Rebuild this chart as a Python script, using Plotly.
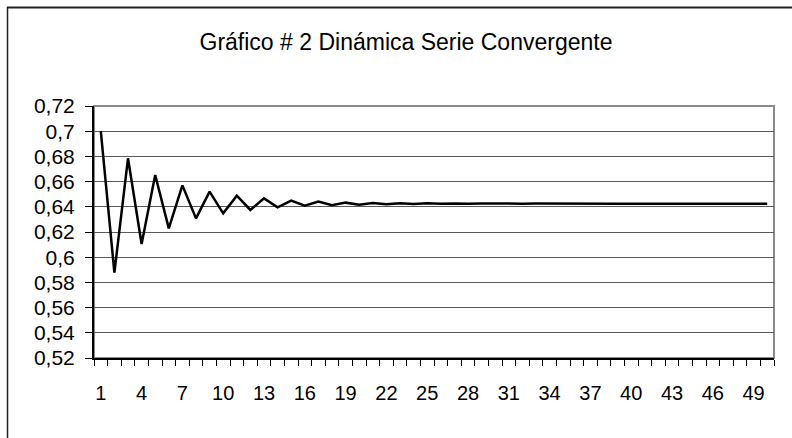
import plotly.graph_objects as go

# Chart geometry (Excel-like chart, plot area in pixels)
W, H = 792, 438
ML, MR, MT, MB = 94, 18, 106, 80

# Data
steps = list(range(1, 51))
values = [
    0.7000, 0.5877, 0.6785, 0.6105, 0.6652, 0.6229, 0.6570, 0.6308, 0.6520, 0.6348,
    0.6488, 0.6375, 0.6467, 0.6396, 0.6449, 0.6409, 0.6441, 0.6412, 0.6433, 0.6417,
    0.6430, 0.6421, 0.6429, 0.6423, 0.6428, 0.6424, 0.6427, 0.6424, 0.6427, 0.6425,
    0.6426, 0.6425, 0.6426, 0.6425, 0.6426, 0.6425, 0.6426, 0.6425, 0.6425, 0.6425,
    0.6425, 0.6425, 0.6425, 0.6425, 0.6425, 0.6425, 0.6425, 0.6425, 0.6425, 0.6425,
]
x_tick_vals = list(range(1, 51, 3))
x_tick_text = [str(v) for v in x_tick_vals]
y_tick_vals = [0.52, 0.54, 0.56, 0.58, 0.60, 0.62, 0.64, 0.66, 0.68, 0.70, 0.72]
y_tick_text = ['0,52', '0,54', '0,56', '0,58', '0,6', '0,62', '0,64', '0,66', '0,68', '0,7', '0,72']

TITLE = 'Gráfico # 2 Dinámica Serie Convergente'
FONT = 'Arial, "Liberation Sans", sans-serif'


def px_x(px):
    # pixel x -> paper x
    return (px - ML) / (W - ML - MR)


def px_y(py):
    # pixel y -> paper y
    return (H - MB - py) / (H - MT - MB)


fig = go.Figure()

fig.add_trace(go.Scatter(
    x=steps,
    y=values,
    mode='lines',
    line=dict(color='black', width=2.5),
    showlegend=False,
))

# gray plot-area frame (top / right)
fig.add_shape(type='rect', xref='x domain', yref='y domain',
              x0=0, x1=1, y0=0, y1=1,
              line=dict(color='#8a8a8a', width=2), layer='below')

# outer chart border: top edge in a few pieces, plus the left edge
for a, b in [(7, 94), (94, 400), (400, W)]:
    fig.add_shape(type='line', xref='paper', yref='paper',
                  x0=px_x(a), x1=px_x(b), y0=px_y(7.5), y1=px_y(7.5),
                  line=dict(color='#222222', width=2), layer='above')
fig.add_shape(type='line', xref='paper', yref='paper',
              x0=px_x(7.5), x1=px_x(7.5), y0=px_y(7), y1=px_y(H),
              line=dict(color='#222222', width=1.5), layer='above')

fig.update_layout(
    width=W,
    height=H,
    margin=dict(l=ML, r=MR, t=MT, b=MB, pad=0),
    plot_bgcolor='white',
    paper_bgcolor='white',
    font=dict(family=FONT, color='black'),
    title=dict(
        text=TITLE,
        x=406 / W,
        xanchor='center',
        xref='container',
        y=1 - 42 / H,
        yanchor='middle',
        yref='container',
        font=dict(size=23, family=FONT, color='black'),
    ),
    xaxis=dict(
        range=[0.5, 50.5],
        tickvals=x_tick_vals,
        ticktext=x_tick_text,
        ticks='',
        showgrid=False,
        zeroline=False,
        showline=True,
        linecolor='black',
        linewidth=2,
        tickfont=dict(size=20, family=FONT, color='black'),
        ticklabelstandoff=16,
        minor=dict(tick0=0.5, dtick=1, ticks='outside', ticklen=6,
                   tickcolor='black', tickwidth=1, showgrid=False),
    ),
    yaxis=dict(
        range=[0.52, 0.72],
        tickvals=y_tick_vals,
        ticktext=y_tick_text,
        ticks='outside',
        ticklen=7,
        tickcolor='black',
        tickwidth=1,
        showgrid=True,
        gridcolor='#5a5a5a',
        gridwidth=1,
        zeroline=False,
        showline=True,
        linecolor='black',
        linewidth=2,
        tickfont=dict(size=21, family=FONT, color='black'),
        ticklabelstandoff=6,
    ),
)

# drop the page's default 8px body margin so the figure sits at (0, 0)
fig.write_html('out.html', config={'displayModeBar': False},
               post_script="document.body.style.margin='0';"
                           "document.body.style.overflow='hidden';")
